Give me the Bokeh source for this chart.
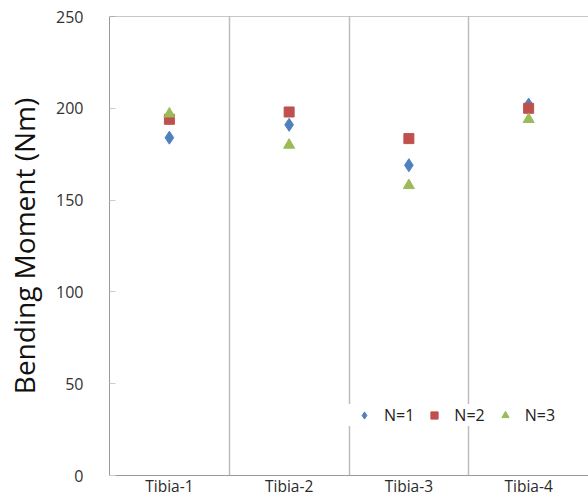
import numpy as np
from bokeh.plotting import figure
from bokeh.models import Range1d, FixedTicker, Span, Legend, LegendItem, ColumnDataSource
from bokeh.embed import file_html
from bokeh.resources import INLINE

categories = ["Tibia-1", "Tibia-2", "Tibia-3", "Tibia-4"]
n1 = [184, 191, 169, 202]
n2 = [194, 198, 183.5, 200]
n3 = [197, 180, 158, 194]
y_ticks = [0, 50, 100, 150, 200, 250]

xc = list(np.arange(len(categories)) + 0.5)

p = figure(width=588, height=500, output_backend="svg", toolbar_location=None,
           x_range=Range1d(0, len(categories)), y_range=Range1d(0, 250),
           min_border_left=109, min_border_right=0, min_border_top=16, min_border_bottom=25)
p.outline_line_color = None
p.background_fill_color = "white"
p.border_fill_color = "white"

font = "Open Sans"
p.xaxis.ticker = FixedTicker(ticks=xc)
p.xaxis.major_label_overrides = {float(x): c for x, c in zip(xc, categories)}
p.xaxis.major_tick_line_color = None
p.xaxis.major_tick_out = 0
p.xaxis.major_tick_in = 0
p.xaxis.axis_line_color = "#9a9a9a"
p.xaxis.major_label_text_font = font
p.xaxis.major_label_text_font_size = "15.5px"
p.xaxis.major_label_text_color = "#2a2a2a"
p.xaxis.major_label_standoff = -1

p.yaxis.ticker = FixedTicker(ticks=y_ticks)
p.yaxis.axis_line_color = "#9a9a9a"
p.yaxis.major_tick_line_color = "#cccccc"
p.yaxis.major_tick_in = 6
p.yaxis.major_tick_out = 0
p.yaxis.minor_tick_line_color = None
p.yaxis.major_label_text_font = font
p.yaxis.major_label_text_font_size = "16px"
p.yaxis.major_label_text_color = "#333333"
p.yaxis.major_label_standoff = 26
p.yaxis.axis_label = "Bending Moment (Nm)"
p.yaxis.axis_label_text_font = font
p.yaxis.axis_label_text_font_size = "28px"
p.yaxis.axis_label_text_font_style = "normal"
p.yaxis.axis_label_text_color = "#111111"
p.yaxis.axis_label_standoff = 10

p.ygrid.grid_line_color = None
p.xgrid.ticker = FixedTicker(ticks=list(range(1, len(categories))))
p.xgrid.grid_line_color = "#bdbdbd"
p.xgrid.grid_line_width = 1.5

p.add_layout(Span(location=250, dimension="width", line_color="#8f8f8f", line_width=1.2))

src = ColumnDataSource(dict(x=xc, n1=n1, n2=n2, n3=n3))
r1 = p.scatter("x", "n1", source=src, marker="diamond", size=13, color="#4F81BD")
r2 = p.scatter("x", "n2", source=src, marker="square", size=10, color="#C0504D")
r3 = p.scatter("x", "n3", source=src, marker="triangle", size=11, color="#9BBB59")

legend = Legend(items=[LegendItem(label="N=1", renderers=[r1]),
                       LegendItem(label="N=2", renderers=[r2]),
                       LegendItem(label="N=3", renderers=[r3])],
                orientation="horizontal", location=(237, 49),
                background_fill_color="white", background_fill_alpha=1.0,
                border_line_color=None, label_text_font=font,
                label_text_font_size="16px", label_text_color="#222222",
                glyph_width=36, glyph_height=18, spacing=2, padding=5,
                label_standoff=2)
p.add_layout(legend)

open("out.html", "w").write(file_html(p, INLINE))
